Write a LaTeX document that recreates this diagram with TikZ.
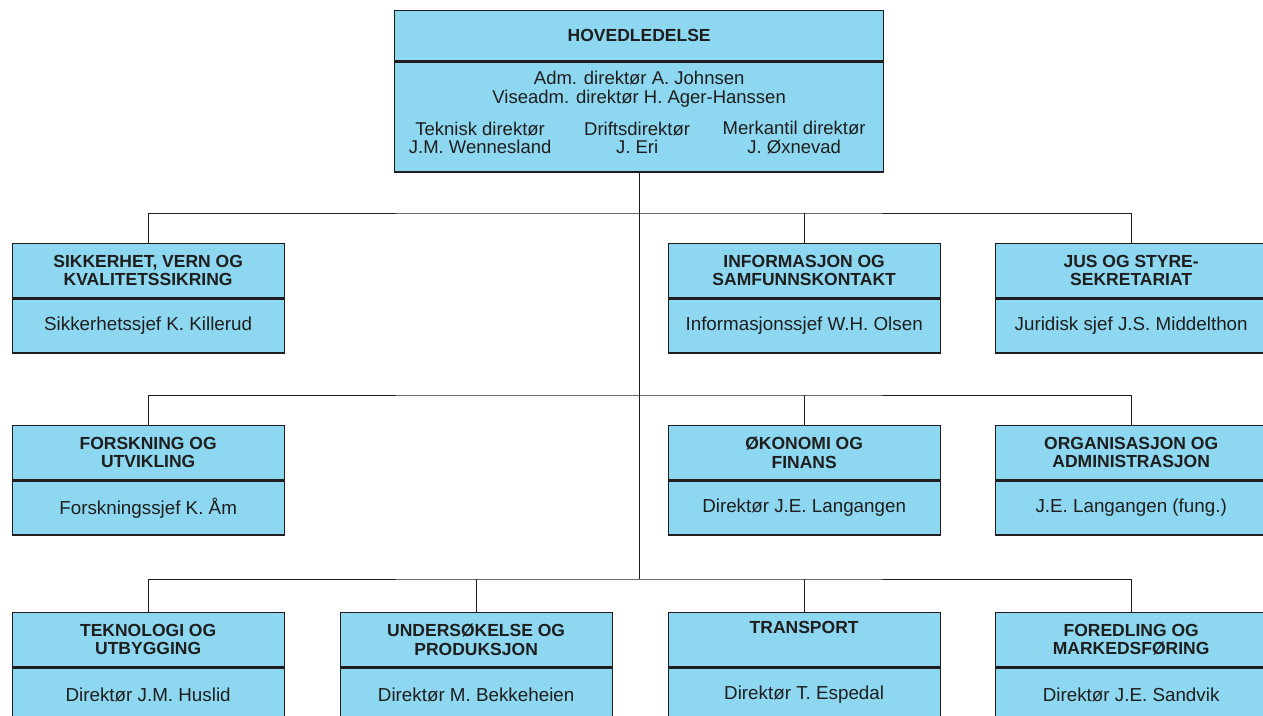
\documentclass[tikz,border=0pt]{standalone}
\usepackage{fontspec}
\setmainfont{Liberation Sans}
\usetikzlibrary{positioning}
\definecolor{orgcyan}{RGB}{141,215,240}
\definecolor{orgink}{RGB}{30,30,30}
\tikzset{head box/.style={draw=orgink,line width=1.3pt,fill=orgcyan,text=orgink,minimum width=272pt,minimum height=54pt,inner sep=0pt,align=center,font=\fontsize{17.5}{18.5}\selectfont\bfseries},
	name box/.style={head box,font=\fontsize{18.8}{19}\selectfont},
	top text/.style={text=orgink,inner sep=0pt,align=center,font=\fontsize{18.5}{18.5}\selectfont},
	bus/.style={draw=orgink,line width=1pt}}

\begin{document}
\begin{tikzpicture}[x=1pt,y=1pt]
			\useasboundingbox (0,0) rectangle (1263,-715);
			% hovedledelse
			\node[head box,minimum width=489pt,minimum height=50pt,anchor=north west] (hoved) at (394,-10) {HOVEDLEDELSE};
			\node[name box,minimum width=489pt,minimum height=110pt,below=0pt of hoved] (hoved-b) {};
			\node[top text,below=10pt of hoved-b.north] (adm) {Adm. direktør A. Johnsen\\Viseadm. direktør H. Ager-Hanssen};
			\node[top text,below=14pt of adm,xshift=-2pt] (drift) {Driftsdirektør\\J. Eri};
			\node[top text] (tek) at ([xshift=-157pt]drift) {Teknisk direktør\\J.M. Wennesland};
			\node[top text] (merk) at ([xshift=157pt]drift) {Merkantil direktør\\J. Øxnevad};
			% stab
			\node[head box,anchor=north west] (sik) at (11.5,-243) {SIKKERHET, VERN OG\\KVALITETSSIKRING};
			\node[name box,below=0pt of sik] (sik-b) {Sikkerhetssjef K. Killerud};
			\node[head box,anchor=north west] (info) at (667.5,-243) {INFORMASJON OG\\SAMFUNNSKONTAKT};
			\node[name box,below=0pt of info] (info-b) {Informasjonssjef W.H. Olsen};
			\node[head box,anchor=north west] (jus) at (994.5,-243) {JUS OG STYRE-\\SEKRETARIAT};
			\node[name box,below=0pt of jus] (jus-b) {Juridisk sjef J.S. Middelthon};
			\node[head box,anchor=north west] (forsk) at (11.5,-425) {FORSKNING OG\\UTVIKLING};
			\node[name box,below=0pt of forsk] (forsk-b) {Forskningssjef K. Åm};
			\node[head box,anchor=north west] (okon) at (667.5,-425) {ØKONOMI OG\\FINANS};
			\node[name box,below=0pt of okon] (okon-b) {Direktør J.E. Langangen};
			\node[head box,anchor=north west] (org) at (994.5,-425) {ORGANISASJON OG\\ADMINISTRASJON};
			\node[name box,below=0pt of org] (org-b) {J.E. Langangen (fung.)};
			% divisjoner
			\node[head box,anchor=north west] (tek-u) at (11.5,-612) {TEKNOLOGI OG\\UTBYGGING};
			\node[name box,below=0pt of tek-u] (tek-u-b) {Direktør J.M. Huslid};
			\node[head box,anchor=north west] (unders) at (339.5,-612) {UNDERSØKELSE OG\\PRODUKSJON};
			\node[name box,below=0pt of unders] (unders-b) {Direktør M. Bekkeheien};
			\node[head box,anchor=north west] (trans) at (667.5,-612) {TRANSPORT\\\strut};
			\node[name box,below=0pt of trans] (trans-b) {Direktør T. Espedal};
			\node[head box,anchor=north west] (fored) at (994.5,-612) {FOREDLING OG\\MARKEDSFØRING};
			\node[name box,below=0pt of fored] (fored-b) {Direktør J.E. Sandvik};
			% linjer
			\coordinate (bus1) at (638,-213);
			\coordinate (bus2) at (638,-395);
			\coordinate (bus3) at (638,-579);
			\draw[bus] (hoved-b.south) -- (hoved-b.south |- bus3);
			\draw[bus] (sik.north) |- (bus1) -| (jus.north);
			\draw[bus] (info.north) -- (info.north |- bus1);
			\draw[bus] (forsk.north) |- (bus2) -| (org.north);
			\draw[bus] (okon.north) -- (okon.north |- bus2);
			\draw[bus] (tek-u.north) |- (bus3) -| (fored.north);
			\draw[bus] (unders.north) -- (unders.north |- bus3);
			\draw[bus] (trans.north) -- (trans.north |- bus3);
		\end{tikzpicture}
\end{document}
